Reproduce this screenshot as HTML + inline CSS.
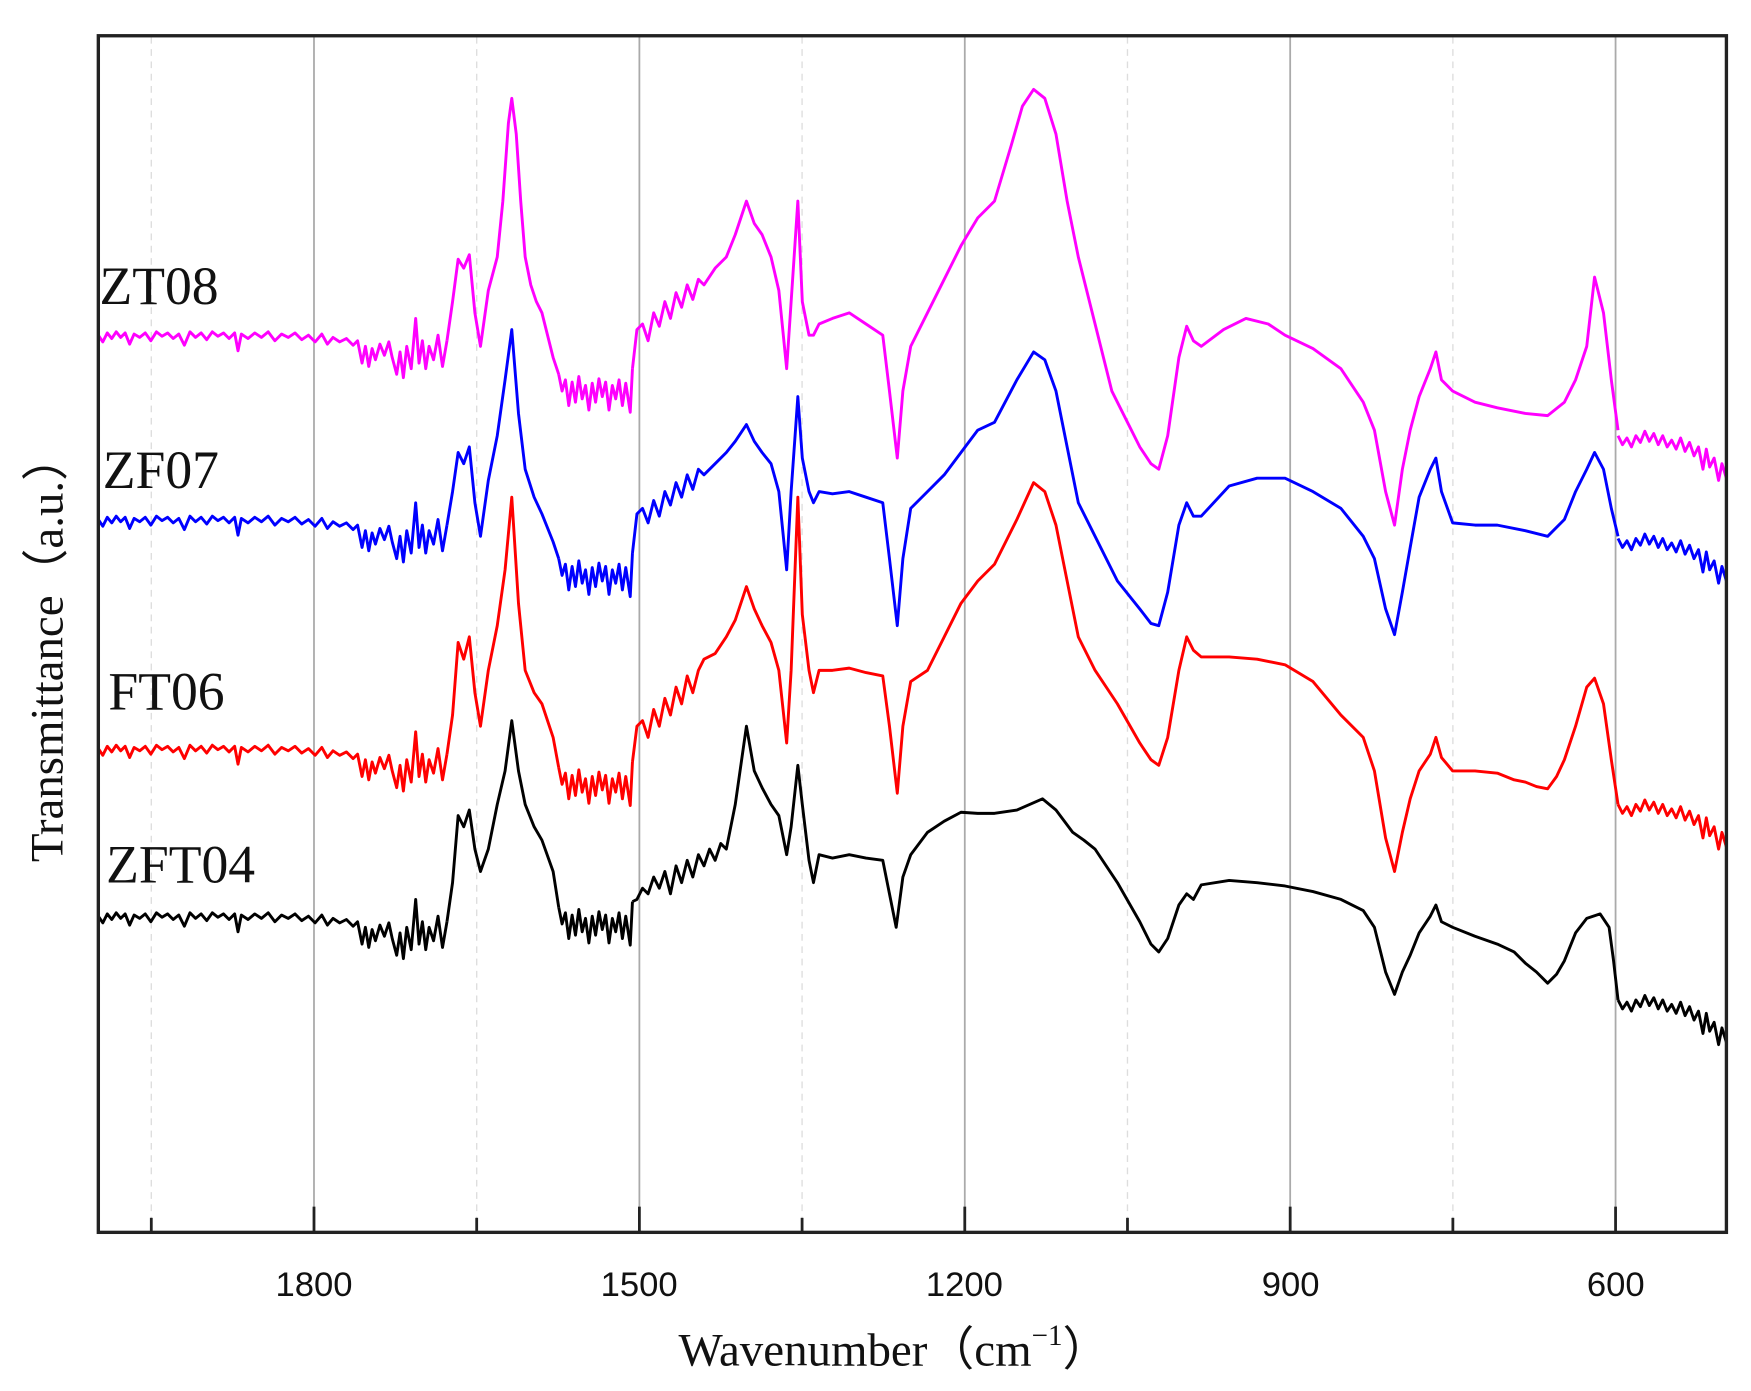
<!DOCTYPE html>
<html><head><meta charset="utf-8"><style>html,body{margin:0;padding:0;background:#fff}svg{display:block}</style></head>
<body>
<svg width="1751" height="1391" viewBox="0 0 1567 1245" preserveAspectRatio="none" xmlns="http://www.w3.org/2000/svg" xmlns:xlink="http://www.w3.org/1999/xlink" font-family="'Liberation Serif', serif">
<defs>
<path id="n1" d="M88,0 L92,6 L96,-2 L100,3 L104,-3 L108,2 L112,-2 L116,8 L120,-1 L125,2 L130,-2 L135,5 L140,-3 L145,1 L150,-2 L155,3 L160,-1 L165,9 L170,-3 L175,2 L180,-2 L185,4 L190,-3 L195,1 L200,-2 L205,3 L210,-2 L213,14 L216,-1 L222,3 L228,-2 L234,2 L240,-3 L246,5 L252,-1 L258,2 L264,-2 L270,4 L276,0 L282,6 L288,-1 L293,8 L298,2 L304,6 L310,3 L316,9 L320,5 L324,25 L327,10 L330,28 L333,12 L336,22 L340,8 L344,18 L348,6 L351,20 L355,35 L358,15 L361,38 L364,10 L368,30 L372,-15 L375,25 L378,5 L381,30 L384,10 L388,22 L392,0 L396,28 L400,5"/>
<path id="n2" d="M500,-10 L503,5 L506,-5 L509,18 L512,-3 L515,15 L518,-8 L521,12 L524,0 L527,22 L530,-2 L533,15 L536,-6 L539,10 L542,-3 L545,22 L548,0 L551,12 L554,-5 L557,18 L560,-2 L564,24 L566,-15"/>
<path id="n3" d="M1448,0 L1452,8 L1456,2 L1460,10 L1464,0 L1468,6 L1472,-4 L1476,5 L1480,-2 L1484,8 L1488,0 L1492,10 L1496,4 L1500,12 L1504,2 L1508,14 L1512,6 L1516,18 L1520,10 L1524,30 L1527,12 L1530,28 L1534,20 L1538,40 L1541,25 L1545,38"/>
</defs>
<rect width="1567" height="1245" fill="#fff"/>
<g stroke="#aaa" stroke-width="1.6">
<line x1="281" y1="33" x2="281" y2="1102"/><line x1="572.2" y1="33" x2="572.2" y2="1102"/><line x1="863.4" y1="33" x2="863.4" y2="1102"/><line x1="1154.6" y1="33" x2="1154.6" y2="1102"/><line x1="1445.8" y1="33" x2="1445.8" y2="1102"/>
</g>
<g stroke="#ddd" stroke-width="1.2" stroke-dasharray="6,5">
<line x1="135.4" y1="33" x2="135.4" y2="1102"/><line x1="426.6" y1="33" x2="426.6" y2="1102"/><line x1="717.8" y1="33" x2="717.8" y2="1102"/><line x1="1009" y1="33" x2="1009" y2="1102"/><line x1="1300.2" y1="33" x2="1300.2" y2="1102"/>
</g>
<g fill="none" stroke-width="2.6" stroke-linejoin="round">
<g stroke="#000">
<use xlink:href="#n1" href="#n1" transform="translate(0,820)"/>
<path d="M400,825 L405,790 L410,730 L415,740 L420,725 L425,760 L430,780 L437,760 L445,720 L452,690 L458,645 L464,690 L470,720 L478,740 L485,752 L495,780 L500,812"/>
<use xlink:href="#n2" href="#n2" transform="translate(0,822)"/>
<path d="M566,807 L570,805 L575,795 L580,800 L585,785 L590,795 L595,780 L600,800 L605,775 L610,790 L615,770 L620,785 L625,765 L630,775 L635,760 L640,770 L645,755 L650,760 L658,720 L668,650 L675,690 L682,705 L690,720 L697,730 L704,765 L708,740 L714,685 L718,720 L724,770 L728,790 L733,765 L745,768 L760,765 L775,768 L790,770 L796,800 L802,830 L808,785 L815,765 L830,745 L845,735 L860,727 L875,728 L890,728 L910,725 L933,715 L945,725 L960,745 L970,752 L980,760 L1000,790 L1020,825 L1030,845 L1037,852 L1045,840 L1055,810 L1062,800 L1068,805 L1075,792 L1100,788 L1125,790 L1150,793 L1175,798 L1200,805 L1220,815 L1230,830 L1240,870 L1248,890 L1255,870 L1262,855 L1270,835 L1280,820 L1285,810 L1290,825 L1300,830 L1320,838 L1340,845 L1355,852 L1365,862 L1375,870 L1385,880 L1393,872 L1400,860 L1410,835 L1420,822 L1432,818 L1440,830 L1444,860 L1448,895"/>
<use xlink:href="#n3" href="#n3" transform="translate(0,895)"/>
</g>
<g stroke="#ff0000">
<use xlink:href="#n1" href="#n1" transform="translate(0,670)"/>
<path d="M400,675 L405,640 L410,575 L415,590 L420,570 L425,620 L430,650 L437,600 L445,560 L452,510 L458,445 L464,540 L470,600 L478,620 L485,630 L495,660 L500,687"/>
<use xlink:href="#n2" href="#n2" transform="translate(0,697)"/>
<path d="M566,682 L570,650 L575,645 L580,660 L585,635 L590,650 L595,625 L600,640 L605,615 L610,630 L615,605 L620,620 L625,600 L630,590 L640,585 L650,570 L658,555 L668,525 L675,545 L682,560 L690,575 L697,600 L704,665 L708,600 L714,445 L718,550 L724,600 L728,620 L733,600 L745,600 L760,598 L775,602 L790,605 L796,650 L803,710 L808,650 L815,610 L830,600 L845,570 L860,540 L875,520 L890,505 L910,465 L925,432 L935,440 L945,470 L955,520 L965,570 L980,600 L1000,630 L1020,665 L1030,680 L1037,685 L1045,660 L1055,600 L1062,570 L1068,582 L1075,588 L1100,588 L1125,590 L1150,595 L1175,610 L1200,640 L1220,660 L1230,690 L1240,750 L1248,780 L1255,745 L1262,715 L1270,690 L1280,675 L1285,660 L1290,678 L1300,690 L1320,690 L1340,692 L1355,698 L1365,700 L1375,704 L1385,706 L1393,695 L1400,680 L1410,650 L1420,615 L1427,607 L1435,630 L1442,680 L1448,720"/>
<use xlink:href="#n3" href="#n3" transform="translate(0,720)"/>
</g>
<g stroke="#0000ff">
<use xlink:href="#n1" href="#n1" transform="translate(0,465)"/>
<path d="M400,470 L405,440 L410,405 L415,415 L420,400 L425,450 L430,480 L437,430 L445,390 L452,340 L458,295 L464,370 L470,420 L478,445 L485,460 L495,485 L500,500"/>
<use xlink:href="#n2" href="#n2" transform="translate(0,510)"/>
<path d="M566,495 L570,460 L575,455 L580,468 L585,448 L590,462 L595,440 L600,452 L605,432 L610,445 L615,425 L620,438 L625,420 L630,425 L640,415 L650,405 L658,395 L668,380 L675,395 L682,405 L690,415 L697,440 L704,510 L708,440 L714,355 L718,410 L724,440 L728,450 L733,440 L745,442 L760,440 L775,445 L790,450 L796,500 L803,560 L808,500 L815,455 L830,440 L845,425 L860,405 L875,385 L890,378 L910,340 L925,315 L935,322 L945,350 L955,400 L965,450 L980,480 L1000,520 L1020,545 L1030,558 L1037,560 L1045,530 L1055,470 L1062,450 L1068,462 L1075,462 L1100,435 L1125,428 L1150,428 L1175,440 L1200,455 L1220,480 L1230,500 L1240,545 L1248,568 L1255,530 L1262,490 L1270,445 L1280,420 L1285,410 L1290,440 L1300,468 L1320,470 L1340,470 L1365,475 L1385,480 L1400,465 L1410,440 L1420,420 L1427,405 L1435,420 L1442,455 L1448,480"/>
<use xlink:href="#n3" href="#n3" transform="translate(0,482)"/>
</g>
<g stroke="#ff00ff">
<use xlink:href="#n1" href="#n1" transform="translate(0,300)"/>
<path d="M400,305 L405,270 L410,232 L415,240 L420,228 L425,280 L430,310 L437,260 L445,230 L450,180 L455,110 L458,88 L462,120 L466,180 L470,230 L475,255 L480,270 L485,280 L495,320 L500,335"/>
<use xlink:href="#n2" href="#n2" transform="translate(0,345)"/>
<path d="M566,330 L570,295 L575,290 L580,305 L585,280 L590,292 L595,270 L600,285 L605,262 L610,275 L615,255 L620,268 L625,250 L630,255 L640,240 L650,230 L658,210 L668,180 L675,200 L682,210 L690,230 L697,260 L704,330 L708,270 L714,180 L718,270 L724,300 L728,300 L733,290 L745,285 L760,280 L775,290 L790,300 L796,350 L803,410 L808,350 L815,310 L830,280 L845,250 L860,220 L875,195 L890,180 L905,130 L915,95 L925,80 L935,88 L945,120 L955,180 L965,230 L980,290 L995,350 L1010,380 L1020,400 L1030,415 L1037,420 L1045,390 L1055,320 L1062,292 L1068,305 L1075,310 L1095,295 L1115,285 L1135,290 L1150,300 L1175,312 L1200,330 L1220,360 L1230,385 L1240,440 L1248,470 L1255,420 L1262,385 L1270,355 L1280,330 L1285,315 L1290,340 L1300,350 L1320,360 L1340,365 L1365,370 L1385,372 L1400,360 L1410,340 L1420,310 L1427,248 L1435,280 L1442,340 L1448,385"/>
<use xlink:href="#n3" href="#n3" transform="translate(0,390)"/>
</g>
</g>
<rect x="88" y="32" width="1457" height="1071" fill="none" stroke="#222" stroke-width="3"/>
<g stroke="#222" stroke-width="2.5">
<line x1="281" y1="1103" x2="281" y2="1080"/><line x1="572.2" y1="1103" x2="572.2" y2="1080"/><line x1="863.4" y1="1103" x2="863.4" y2="1080"/><line x1="1154.6" y1="1103" x2="1154.6" y2="1080"/><line x1="1445.8" y1="1103" x2="1445.8" y2="1080"/>
<line x1="135.4" y1="1103" x2="135.4" y2="1090"/><line x1="426.6" y1="1103" x2="426.6" y2="1090"/><line x1="717.8" y1="1103" x2="717.8" y2="1090"/><line x1="1009" y1="1103" x2="1009" y2="1090"/><line x1="1300.2" y1="1103" x2="1300.2" y2="1090"/>
</g>
<g font-family="'Liberation Sans', sans-serif" font-size="31" text-anchor="middle" fill="#111">
<text x="281" y="1160">1800</text><text x="572" y="1160">1500</text><text x="863" y="1160">1200</text><text x="1155" y="1160">900</text><text x="1446" y="1160">600</text>
</g>
<text x="800" y="1222" font-size="42" text-anchor="middle" fill="#111">Wavenumber（cm<tspan font-size="26" dy="-18">−1</tspan><tspan dy="18">）</tspan></text>
<text transform="translate(56,580) rotate(-90)" font-size="42" text-anchor="middle" fill="#111">Transmittance（a.u.）</text>
<g font-size="48" fill="#111">
<text x="89" y="272">ZT08</text><text x="92" y="437">ZF07</text><text x="97" y="635">FT06</text><text x="95" y="790">ZFT04</text>
</g>
</svg>
</body></html>
